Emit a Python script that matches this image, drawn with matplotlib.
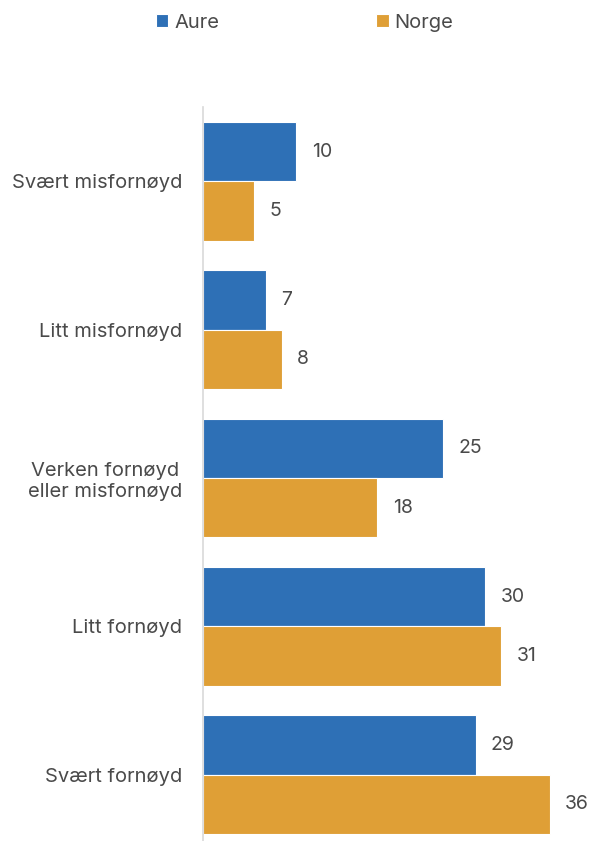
import numpy as np
import matplotlib
matplotlib.use('Agg')
import matplotlib.pyplot as plt

plt.rcParams['font.family'] = ['Inter', 'DejaVu Sans']

# Data (labels show rounded values)
categories = ['Svært misfornøyd', 'Litt misfornøyd', 'Verken fornøyd\neller misfornøyd',
              'Litt fornøyd', 'Svært fornøyd']
aure = [9.8, 6.6, 25.2, 29.6, 28.6]
norge = [5.4, 8.3, 18.3, 31.3, 36.4]
series_names = ['Aure', 'Norge']
colors = ['#2E70B6', '#DF9F36']
text_color = '#4A4A4A'

fig = plt.figure(figsize=(5.92, 8.41), dpi=100)
ax = fig.add_axes([203 / 592, -8 / 841, 385 / 592, 742 / 841])

y = np.arange(len(categories))
h = 0.4
b1 = ax.barh(y - h / 2, aure, height=h, color=colors[0], edgecolor='white', linewidth=0.8, label=series_names[0])
b2 = ax.barh(y + h / 2, norge, height=h, color=colors[1], edgecolor='white', linewidth=0.8, label=series_names[1])

for bars, vals in [(b1, aure), (b2, norge)]:
    for bar, v in zip(bars, vals):
        ax.text(bar.get_width() + 1.6, bar.get_y() + bar.get_height() / 2, f'{round(v)}',
                va='center', ha='left', fontsize=14, color=text_color)

ax.set_xlim(0, 40.4)
ax.set_ylim(len(categories) - 0.5, -0.5)
ax.set_yticks(y)
ax.set_yticklabels(categories, fontsize=14.5, color=text_color, ha='right', multialignment='center')
ax.tick_params(axis='y', length=0, pad=15)
ax.set_xticks([])
for s in ['top', 'right', 'bottom']:
    ax.spines[s].set_visible(False)
ax.spines['left'].set_color('#D9D9D9')
ax.spines['left'].set_linewidth(1.2)

fig.legend(handles=[b1, b2], labels=series_names, loc='upper center', ncol=2,
           bbox_to_anchor=(0.515, 1.005), frameon=False, fontsize=14.5, labelcolor=text_color,
           handlelength=0.6, handleheight=0.6, handletextpad=0.3, columnspacing=7.8)

fig.savefig('out.png', dpi=100)
